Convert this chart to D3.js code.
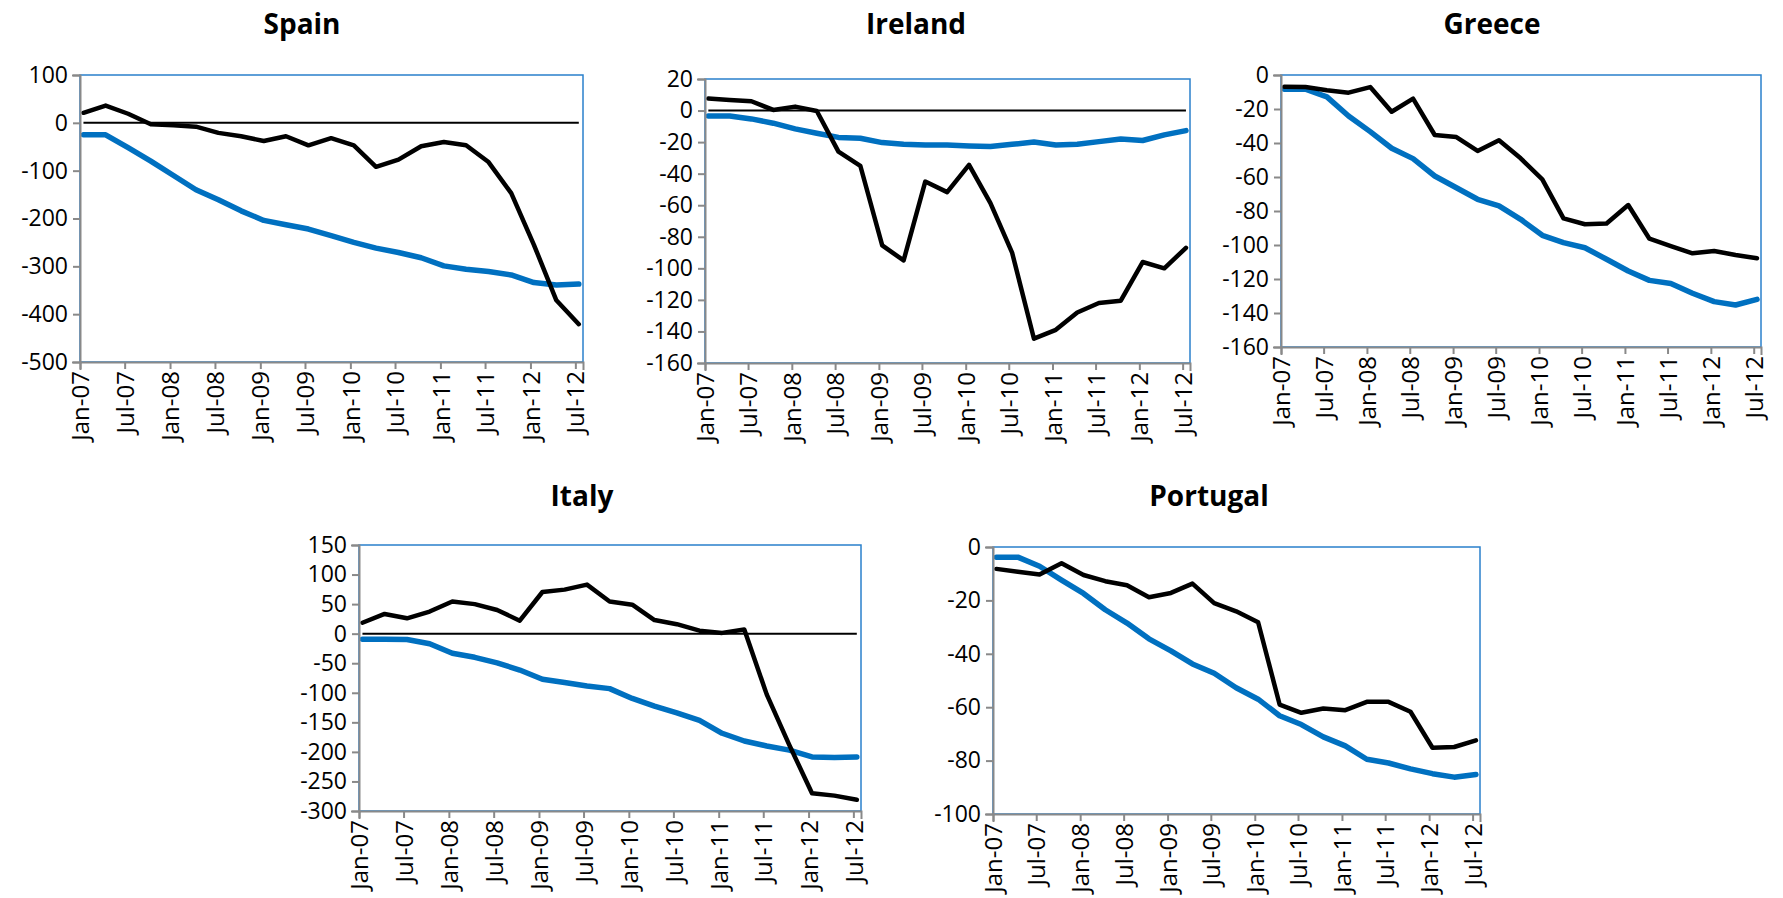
<!doctype html>
<html>
<head>
<meta charset="utf-8">
<script src="https://d3js.org/d3.v7.min.js"></script>
<style>
    body { margin: 0; background: #fff; }
    svg { display: block; }
    .tick text { font-family: "Open Sans", sans-serif; fill: #000; }
    .title { font-family: "Open Sans", sans-serif; font-weight: bold; }
</style>
</head>
<body>
<svg width="1783" height="898"></svg>
<script>

// quarterly observations, Jan-07 .. Jul-12
var quarters = ["2007-01", "2007-04", "2007-07", "2007-10",
                "2008-01", "2008-04", "2008-07", "2008-10",
                "2009-01", "2009-04", "2009-07", "2009-10",
                "2010-01", "2010-04", "2010-07", "2010-10",
                "2011-01", "2011-04", "2011-07", "2011-10",
                "2012-01", "2012-04", "2012-07"];

var xTickLabels = ["Jan-07", "Jul-07", "Jan-08", "Jul-08", "Jan-09", "Jul-09",
                   "Jan-10", "Jul-10", "Jan-11", "Jul-11", "Jan-12", "Jul-12"];

var spainBlack = [21, 36, 19, -3, -5, -8, -21, -28, -38, -28, -47, -32,
                  -47, -92, -77, -49, -40, -47, -82, -147, -255, -371, -421];
var spainBlue  = [-25, -25, -52, -80, -110, -140, -161, -184, -204, -213, -222, -236,
                  -250, -262, -271, -282, -299, -306, -311, -318, -334, -339, -337];

var irelandBlack = [7.6, 6.7, 5.9, 0.4, 2.5, -0.3, -26, -35, -85.5, -95, -45, -51.7,
                    -34.4, -58.7, -90, -144.6, -139, -128, -122, -120.5, -96, -100, -87];
var irelandBlue  = [-3.4, -3.4, -5.3, -8, -11.6, -14.4, -17, -17.6, -20.3, -21.4, -21.8, -21.8,
                    -22.4, -22.8, -21.4, -19.9, -21.8, -21.4, -19.7, -18, -19, -15.4, -12.7];

var greeceBlack = [-6.9, -7.1, -9, -10.4, -7.1, -21.6, -13.9, -35.3, -36.5, -44.7, -38.4, -49,
                   -61.4, -84.3, -87.8, -87.3, -76.5, -96.3, -100.6, -104.9, -103.5, -105.9, -107.8];
var greeceBlue  = [-8.4, -8.4, -12.9, -24.1, -33.3, -43.1, -49.2, -59.4, -66.3, -73.1, -77, -84.9,
                   -94.3, -98.6, -101.6, -108.4, -115.3, -120.8, -122.7, -128.4, -133.3, -135.3, -132];

var italyBlack = [18.5, 33.4, 26, 37.4, 54.5, 50, 40, 22, 70.5, 74.5, 83, 54.5,
                  49, 23, 16, 5, 1.3, 7, -102.7, -188.5, -270, -274, -281];
var italyBlue  = [-9.5, -9.5, -10, -17, -33, -40, -49.5, -61.5, -77, -82.7, -88.4, -93,
                  -109.6, -122.7, -134, -146.7, -168.5, -181.6, -190, -197, -208.5, -209.6, -208.5];

var portugalBlack = [-8.2, -9.3, -10.3, -6.1, -10.5, -12.8, -14.3, -18.8, -17.2, -13.7, -21, -24.1,
                     -28.2, -59, -62.1, -60.5, -61.1, -58, -58, -61.7, -75.2, -74.9, -72.4];
var portugalBlue  = [-3.8, -3.8, -7.2, -12.4, -17.4, -23.5, -28.5, -34.4, -38.9, -43.8, -47.3, -52.7,
                     -57, -63.2, -66.5, -71.1, -74.5, -79.5, -80.9, -83.1, -84.9, -86.2, -85.2];

var spainTicks    = [-500, -400, -300, -200, -100, 0, 100];
var irelandTicks  = [-160, -140, -120, -100, -80, -60, -40, -20, 0, 20];
var greeceTicks   = [-160, -140, -120, -100, -80, -60, -40, -20, 0];
var italyTicks    = [-300, -250, -200, -150, -100, -50, 0, 50, 100, 150];
var portugalTicks = [-100, -80, -60, -40, -20, 0];

var panels = [
    { title: "Spain",    black: spainBlack,    blue: spainBlue,    ticks: spainTicks,
      left: 80,   right: 583,  top: 75,  bottom: 362, titleX: 302,  titleY: 34 },
    { title: "Ireland",  black: irelandBlack,  blue: irelandBlue,  ticks: irelandTicks,
      left: 705,  right: 1190, top: 79,  bottom: 363, titleX: 916,  titleY: 34 },
    { title: "Greece",   black: greeceBlack,   blue: greeceBlue,   ticks: greeceTicks,
      left: 1281, right: 1761, top: 75,  bottom: 347, titleX: 1492, titleY: 34 },
    { title: "Italy",    black: italyBlack,    blue: italyBlue,    ticks: italyTicks,
      left: 359,  right: 861,  top: 545, bottom: 811, titleX: 582,  titleY: 506 },
    { title: "Portugal", black: portugalBlack, blue: portugalBlue, ticks: portugalTicks,
      left: 993,  right: 1480, top: 547, bottom: 814, titleX: 1209, titleY: 506 }
];

var svg = d3.select("svg");
var parseMonth = d3.timeParse("%Y-%m");
// points sit mid-month, like the original date axis
var dates = quarters.map(function(q) { return d3.timeDay.offset(parseMonth(q), 14); });
var tickDates = d3.timeMonth.every(6).range(new Date(2007, 0, 1), new Date(2012, 7, 1));

panels.forEach(function(p) {
    var x = d3.scaleTime()
        .domain([new Date(2007, 0, 1), new Date(2012, 7, 1)])
        .range([p.left, p.right]);
    var y = d3.scaleLinear()
        .domain(d3.extent(p.ticks))
        .range([p.bottom, p.top]);

    var g = svg.append("g");

    svg.append("text")
       .attr("class", "title")
       .attr("x", p.titleX)
       .attr("y", p.titleY)
       .attr("text-anchor", "middle")
       .attr("font-size", "28px")
       .text(p.title);

    var line = d3.line()
        .x(function(d, i) { return x(dates[i]); })
        .y(function(d) { return y(d); });

    // zero reference line (only where 0 is inside the plot)
    if (y.domain()[1] > 0) {
        g.append("path")
         .datum(dates.map(function() { return 0; }))
         .attr("d", line)
         .attr("fill", "none")
         .attr("stroke", "#000")
         .attr("stroke-width", 2);
    }

    g.append("path")
     .datum(p.blue)
     .attr("d", line)
     .attr("fill", "none")
     .attr("stroke", "#0070c0")
     .attr("stroke-width", 5.5)
     .attr("stroke-linejoin", "round")
     .attr("stroke-linecap", "round");

    g.append("path")
     .datum(p.black)
     .attr("d", line)
     .attr("fill", "none")
     .attr("stroke", "#000")
     .attr("stroke-width", 4.5)
     .attr("stroke-linejoin", "round")
     .attr("stroke-linecap", "round");

    // plot area border
    g.append("rect")
     .attr("x", p.left)
     .attr("y", p.top)
     .attr("width", p.right - p.left)
     .attr("height", p.bottom - p.top)
     .attr("fill", "none")
     .attr("stroke", "#2a80cc")
     .attr("stroke-width", 1.5);

    var yAxis = g.append("g")
        .attr("transform", "translate(" + p.left + ",0)")
        .call(d3.axisLeft(y).tickValues(p.ticks).tickSize(7).tickPadding(5));
    yAxis.selectAll("text").attr("font-size", "23px")
         .text(function(d) { return d < 0 ? "-" + Math.abs(d) : d; });

    var xAxis = g.append("g")
        .attr("transform", "translate(0," + p.bottom + ")")
        .call(d3.axisBottom(x).tickValues(tickDates).tickSize(7)
              .tickFormat(function(d, i) { return xTickLabels[i]; }));
    xAxis.selectAll("text")
         .attr("font-size", "24px")
         .attr("transform", "rotate(-90)")
         .attr("x", -9)
         .attr("y", 0)
         .attr("dy", "0.36em")
         .style("text-anchor", "end");

    g.selectAll(".domain, .tick line")
     .attr("stroke", "#898989")
     .attr("stroke-width", 2);
    g.selectAll(".domain").attr("stroke-linecap", "square");
});

</script>
</body>
</html>
